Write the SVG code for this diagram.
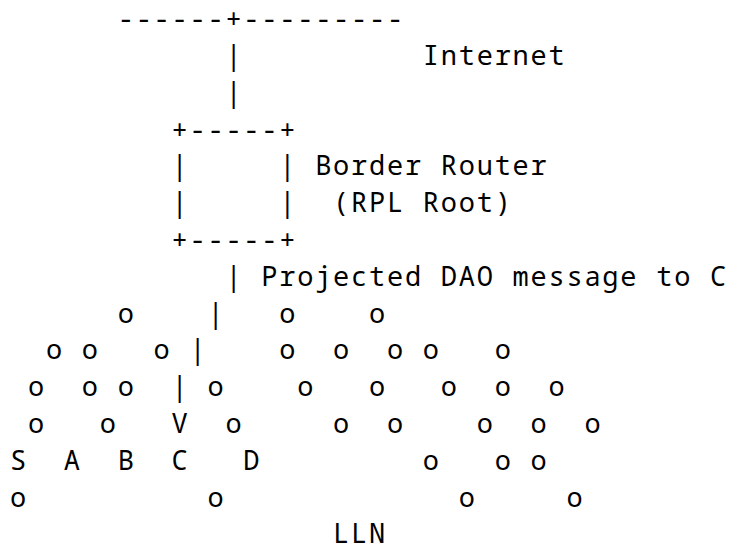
<svg xmlns="http://www.w3.org/2000/svg" width="731" height="560" viewBox="0 0 731 560">
<style>
text{font-family:"Noto Sans Mono","DejaVu Sans Mono",monospace;font-size:27px;letter-spacing:1.75px;fill:#000;white-space:pre}
</style>
<rect width="731" height="560" fill="#fff"/>
<g id="ascii" xml:space="preserve">
<text x="10" y="28">      ------+---------</text>
<text x="10" y="65">            |          Internet</text>
<text x="10" y="101.8">            |</text>
<text x="10" y="138.6">         +-----+</text>
<text x="10" y="175.4">         |     | Border Router</text>
<text x="10" y="212.2">         |     |  (RPL Root)</text>
<text x="10" y="249">         +-----+</text>
<text x="10" y="285.8">            | Projected DAO message to C</text>
<text x="10" y="322.6">      o    |   o    o</text>
<text x="10" y="359.4">  o o   o |    o  o  o o   o</text>
<text x="10" y="396.2"> o  o o  | o    o   o   o  o  o</text>
<text x="10" y="433"> o   o   V  o     o  o    o  o  o</text>
<text x="10" y="469.8">S  A  B  C   D         o   o o</text>
<text x="10" y="506.6">o          o             o     o</text>
<text x="10" y="543.4">                  LLN</text>
</g>
</svg>
